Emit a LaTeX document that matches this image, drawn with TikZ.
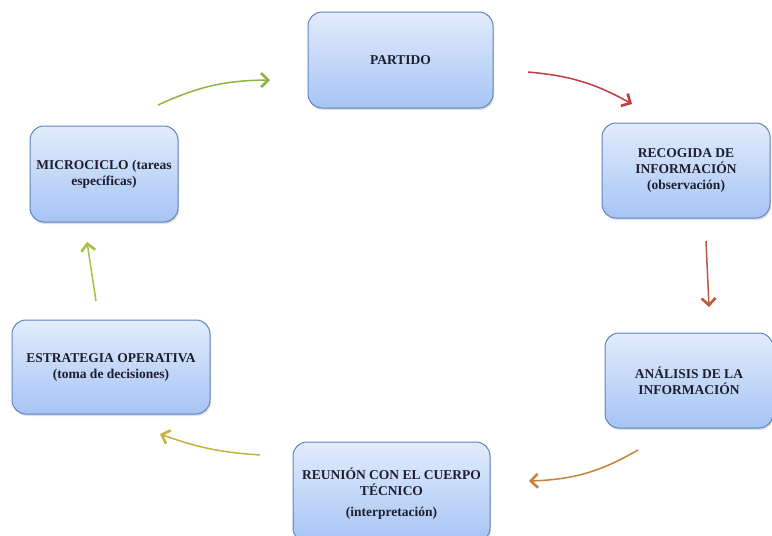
\documentclass[tikz,border=0pt]{standalone}
\usepackage{fontspec}
\setmainfont{Liberation Serif}
\usetikzlibrary{shadows,arrows.meta}
\definecolor{boxtop}{HTML}{E2ECFC}
\definecolor{boxbot}{HTML}{A6C4F4}
\definecolor{boxdraw}{HTML}{5F84C2}
\definecolor{txt}{HTML}{1E1E2E}
\tikzset{
  stage/.style={draw=boxdraw, line width=1pt, rounded corners=14pt, top color=boxtop, bottom color=boxbot,
    align=center, font=\fontsize{13.5}{16}\selectfont\bfseries, text=txt, inner sep=0pt,
    drop shadow={shadow xshift=1pt, shadow yshift=-2pt, opacity=0.25}},
  flow/.style={line width=1.5pt, -{Straight Barb[length=7pt,width=14pt,line width=2.6pt]}}
}
\begin{document}
\begin{tikzpicture}[x=1pt,y=-1pt]
\useasboundingbox (0,0) rectangle (772,536);
\clip (0,0) rectangle (772,536);
\node[stage, minimum width=185pt, minimum height=96pt] (partido) at (400.5,60) {PARTIDO};
\node[stage, minimum width=168pt, minimum height=95pt] (recogida) at (686,170.5) {RECOGIDA DE\\INFORMACIÓN\\(observación)};
\node[stage, minimum width=168pt, minimum height=95pt] (analisis) at (689,380.5) {ANÁLISIS DE LA\\INFORMACIÓN};
\node[stage, minimum width=197pt, minimum height=100pt, text depth=0pt] (reunion) at (391.5,492) {REUNIÓN CON EL CUERPO\\TÉCNICO\\[5pt](interpretación)};
\node[stage, minimum width=198pt, minimum height=94pt] (estrategia) at (111,367) {ESTRATEGIA OPERATIVA\\(toma de decisiones)};
\node[stage, minimum width=148pt, minimum height=96pt] (micro) at (104,174) {MICROCICLO (tareas\\específicas)};

\coordinate (a1s) at (158,105); \coordinate (a1e) at (270,80);
\coordinate (a2s) at (528,72);  \coordinate (a2e) at (632,104);
\coordinate (a3s) at (706,241); \coordinate (a3e) at (709,307);
\coordinate (a4s) at (638,450); \coordinate (a4e) at (529,481);
\coordinate (a5s) at (260,455); \coordinate (a5e) at (160,434);
\coordinate (a6s) at (96,301);  \coordinate (a6e) at (87,242);

\draw[flow, color={rgb,255:red,141;green,180;blue,60}] (a1s) to[bend left=12] (a1e);
\draw[flow, color={rgb,255:red,196;green,58;blue,62}] (a2s) to[bend left=12] (a2e);
\draw[flow, color={rgb,255:red,184;green,90;blue,60}] (a3s) -- (a3e);
\draw[flow, color={rgb,255:red,196;green,130;blue,62}] (a4s) to[bend left=14] (a4e);
\draw[flow, color={rgb,255:red,198;green,176;blue,66}] (a5s) to[bend left=8] (a5e);
\draw[flow, color={rgb,255:red,165;green,192;blue,66}] (a6s) -- (a6e);
\end{tikzpicture}
\end{document}
